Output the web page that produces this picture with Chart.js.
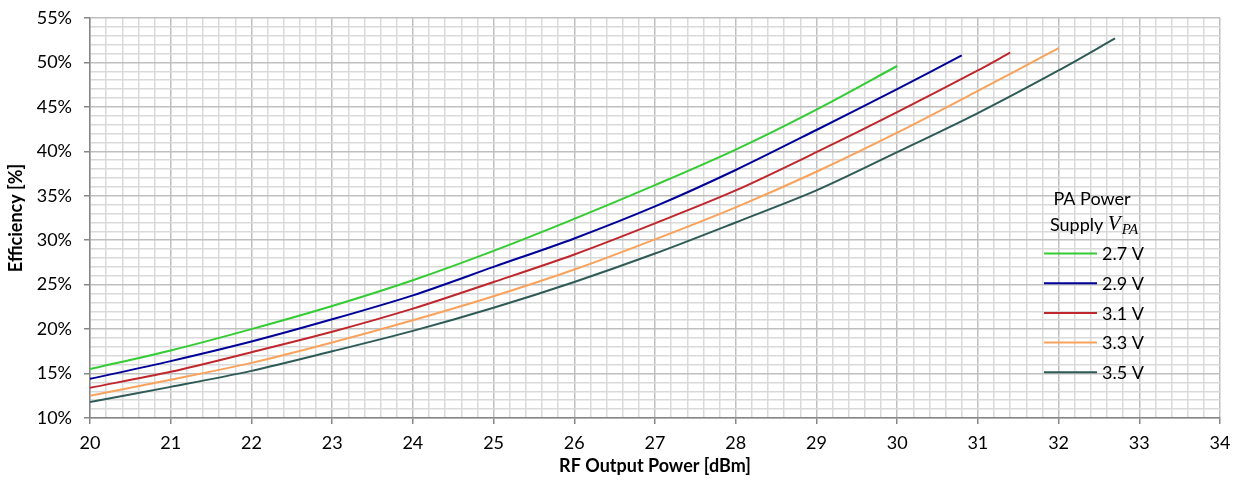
<!DOCTYPE html>
<html>
<head>
<meta charset="utf-8">
<script src="https://cdn.jsdelivr.net/npm/chart.js@4"></script>
<style>
  html, body { margin: 0; padding: 0; background: #fff; }
  #wrap { width: 1237px; height: 482px; }
</style>
</head>
<body>
<div id="wrap"><canvas id="effChart" width="1237" height="482"></canvas></div>
<script>
// values
const supplyLabels = ['2.7 V', '2.9 V', '3.1 V', '3.3 V', '3.5 V'];
const supplyColors = ['#33cc33', '#000099', '#c0272d', '#f9a25c', '#2f5b57'];

const power27 = [20, 21, 22, 23, 24, 25, 26, 27, 28, 29, 30];
const eff27   = [15.5, 17.6, 20.0, 22.6, 25.5, 28.8, 32.4, 36.2, 40.2, 44.7, 49.6];

const power29 = [20, 21, 22, 23, 24, 25, 26, 27, 28, 29, 30, 30.8];
const eff29   = [14.4, 16.4, 18.6, 21.1, 23.8, 27.0, 30.2, 33.8, 37.9, 42.4, 47.0, 50.8];

const power31 = [20, 21, 22, 23, 24, 25, 26, 27, 28, 29, 30, 31, 31.4];
const eff31   = [13.4, 15.2, 17.4, 19.7, 22.3, 25.3, 28.4, 31.9, 35.6, 39.9, 44.4, 49.1, 51.1];

const power33 = [20, 21, 22, 23, 24, 25, 26, 27, 28, 29, 30, 31, 32];
const eff33   = [12.5, 14.3, 16.2, 18.5, 21.0, 23.7, 26.7, 30.1, 33.7, 37.7, 42.1, 46.8, 51.6];

const power35 = [20, 21, 22, 23, 24, 25, 26, 27, 28, 29, 30, 31, 32, 32.7];
const eff35   = [11.8, 13.5, 15.3, 17.5, 19.8, 22.4, 25.3, 28.5, 32.0, 35.6, 39.9, 44.3, 49.1, 52.7];

const xTicks = { min: 20, max: 34, minor: 0.2 };
const yTicks = { min: 10, max: 55, minor: 1, major: 5 };

const powers = [power27, power29, power31, power33, power35];
const effs = [eff27, eff29, eff31, eff33, eff35];

const datasets = supplyLabels.map((label, i) => ({
    label: label,
    data: powers[i].map((p, j) => ({ x: p, y: effs[i][j] })),
    borderColor: supplyColors[i],
    backgroundColor: supplyColors[i],
    borderWidth: 2,
    pointRadius: 0,
    tension: 0.3,
    fill: false
}));

const isInt = v => Math.abs(v - Math.round(v)) < 1e-6;
const isMajorY = v => isInt(v) && Math.round(v) % yTicks.major === 0;

const fontFam = 'Lato, "Open Sans", sans-serif';

// legend drawn inside the plot, like the original
const legendBox = {
    id: 'legendBox',
    afterDraw(chart) {
        const ctx = chart.ctx;
        ctx.save();
        ctx.fillStyle = '#000';
        ctx.textBaseline = 'middle';
        ctx.font = '18px ' + fontFam;
        ctx.textAlign = 'center';
        ctx.fillText('PA Power', 1092, 199);

        // "Supply V_PA"
        const part1 = 'Supply ';
        const w1 = ctx.measureText(part1).width;
        ctx.font = 'italic 21px "Liberation Serif", serif';
        const w2 = ctx.measureText('V').width;
        ctx.font = 'italic 15px "Liberation Serif", serif';
        const w3 = ctx.measureText('PA').width;
        let x = 1094 - (w1 + w2 + w3 + 1) / 2;
        ctx.textAlign = 'left';
        ctx.font = '18px ' + fontFam;
        ctx.fillText(part1, x, 225);
        x += w1;
        ctx.font = 'italic 21px "Liberation Serif", serif';
        ctx.fillText('V', x, 224);
        x += w2 + 1;
        ctx.font = 'italic 15px "Liberation Serif", serif';
        ctx.fillText('PA', x, 230);

        ctx.font = '18px ' + fontFam;
        chart.data.datasets.forEach((ds, i) => {
            const y = 253.5 + i * 29.7;
            ctx.strokeStyle = ds.borderColor;
            ctx.lineWidth = 2;
            ctx.beginPath();
            ctx.moveTo(1044, y);
            ctx.lineTo(1097, y);
            ctx.stroke();
            ctx.fillText(ds.label, 1102, y + 1);
        });
        ctx.restore();
    }
};

new Chart(document.getElementById('effChart').getContext('2d'), {
    type: 'line',
    data: { datasets: datasets },
    plugins: [legendBox],
    options: {
        responsive: false,
        animation: false,
        layout: { padding: { top: 18, right: 17, left: 0, bottom: 0 } },
        plugins: {
            legend: { display: false },
            tooltip: { enabled: false }
        },
        scales: {
            x: {
                type: 'linear',
                min: xTicks.min,
                max: xTicks.max,
                afterFit: scale => {
                    scale.height = 64;
                    scale.paddingLeft = 0;
                    scale.paddingRight = 0;
                },
                border: { color: '#868686', width: 1.5 },
                grid: {
                    color: c => isInt(c.tick.value) ? '#bfbfbf' : '#d9d9d9',
                    lineWidth: 1.5,
                    tickLength: 6,
                    tickColor: c => isInt(c.tick.value) ? '#868686' : 'rgba(0,0,0,0)'
                },
                ticks: {
                    stepSize: xTicks.minor,
                    autoSkip: false,
                    maxRotation: 0,
                    padding: 8,
                    color: '#000',
                    font: { family: fontFam, size: 18 },
                    callback: v => isInt(v) ? String(Math.round(v)) : ''
                },
                title: {
                    display: true,
                    text: 'RF Output Power [dBm]',
                    color: '#000',
                    font: { family: fontFam, size: 18, weight: 'bold' },
                    padding: { top: 0, bottom: 5 }
                }
            },
            y: {
                min: yTicks.min,
                max: yTicks.max,
                afterFit: scale => {
                    scale.width = 90;
                    scale.paddingTop = 0;
                    scale.paddingBottom = 0;
                },
                border: { color: '#868686', width: 1.5 },
                grid: {
                    color: c => isMajorY(c.tick.value) ? '#bfbfbf' : '#d9d9d9',
                    lineWidth: 1.5,
                    tickLength: 6,
                    tickColor: c => isMajorY(c.tick.value) ? '#868686' : 'rgba(0,0,0,0)'
                },
                ticks: {
                    stepSize: yTicks.minor,
                    autoSkip: false,
                    padding: 12,
                    color: '#000',
                    font: { family: fontFam, size: 18 },
                    callback: v => isMajorY(v) ? Math.round(v) + '%' : ''
                },
                title: {
                    display: true,
                    text: 'Efficiency [%]',
                    color: '#000',
                    font: { family: fontFam, size: 18, weight: 'bold' },
                    padding: { top: 5, bottom: 0 }
                }
            }
        }
    }
});
</script>
</body>
</html>
